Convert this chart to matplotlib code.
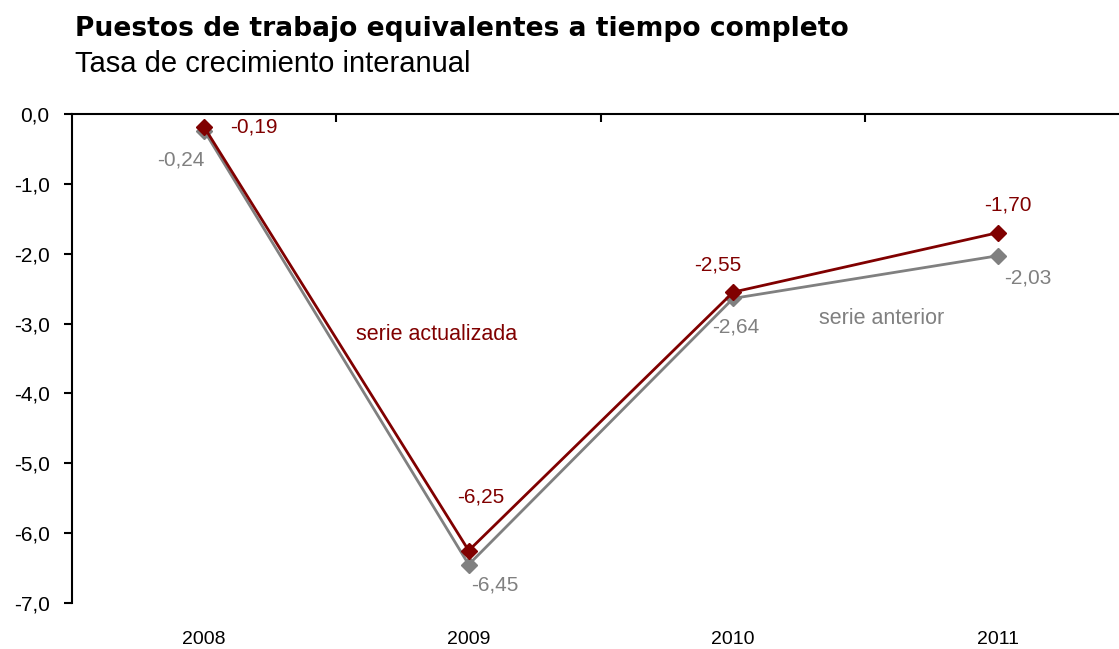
import numpy as np
import matplotlib.pyplot as plt

plt.rcParams['font.family'] = ['Liberation Sans', 'DejaVu Sans']

years = ['2008', '2009', '2010', '2011']
serie_actualizada = [-0.19, -6.25, -2.55, -1.70]
serie_anterior = [-0.24, -6.45, -2.64, -2.03]

red = '#800000'
gray = '#808080'

def fmt(v):
    return f'{v:.2f}'.replace('.', ',')

fig = plt.figure(figsize=(11.19, 6.49), dpi=100)
ax = fig.add_axes([0.0643, 0.0709, 0.9455, 0.7535])

x = np.arange(len(years))
ax.plot(x, serie_anterior, color=gray, lw=2, marker='D', ms=8, zorder=2)
ax.plot(x, serie_actualizada, color=red, lw=2, marker='D', ms=8, zorder=3)

ax.set_xlim(-0.5, 3.5)
ax.set_ylim(-7, 0)
ax.set_yticks(np.arange(-7, 0.1, 1))
ax.set_yticklabels([f'{v:.1f}'.replace('.', ',') for v in np.arange(-7, 0.1, 1)])
ax.set_xticks(x)
ax.set_xticklabels(years)
ax.set_xticks([0.5, 1.5, 2.5], minor=True)

ax.spines['bottom'].set_visible(False)
ax.spines['right'].set_visible(False)
ax.spines['top'].set_linewidth(1.5)
ax.spines['left'].set_linewidth(1.5)
ax.tick_params(axis='x', which='major', length=0, pad=20, labelsize=14)
ax.tick_params(axis='x', which='minor', bottom=False, top=True, direction='in',
               length=6, width=1.5)
ax.tick_params(axis='y', length=6, width=1.5, labelsize=15, pad=10)

# etiquetas de datos (desplazamiento en puntos)
red_off = [(36, 0, 'center'), (9, 32, 'bottom'), (-11, 13, 'bottom'), (7, 13, 'bottom')]
gray_off = [(-17, -14, 'top'), (19, -8, 'top'), (2, -14, 'top'), (22, -9, 'top')]
for i in range(len(years)):
    dx, dy, va = red_off[i]
    ax.annotate(fmt(serie_actualizada[i]), (x[i], serie_actualizada[i]),
                xytext=(dx, dy), textcoords='offset points', ha='center',
                va=va, color=red, fontsize=15)
    dx, dy, va = gray_off[i]
    ax.annotate(fmt(serie_anterior[i]), (x[i], serie_anterior[i]),
                xytext=(dx, dy), textcoords='offset points', ha='center',
                va=va, color=gray, fontsize=15)

ax.text(0.88, -3.15, 'serie actualizada', color=red, fontsize=15.5,
        ha='center', va='center')
ax.text(2.56, -2.93, 'serie anterior', color=gray, fontsize=15.5,
        ha='center', va='center')

fig.text(75 / 1119, 1 - 36 / 649, 'Puestos de trabajo equivalentes a tiempo completo',
         fontsize=19.1, fontweight='bold', family='DejaVu Sans',
         ha='left', va='baseline')
fig.text(75 / 1119, 1 - 72 / 649, 'Tasa de crecimiento interanual',
         fontsize=21, ha='left', va='baseline')

fig.savefig('out.png', dpi=100)
